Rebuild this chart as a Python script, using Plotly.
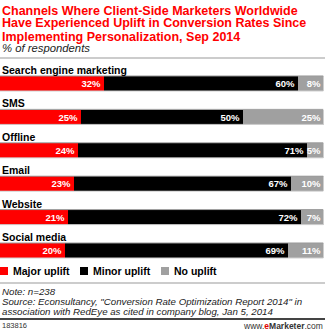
import plotly.graph_objects as go

# Survey data: share of respondents by uplift level per channel
channels = ["Search engine marketing", "SMS", "Offline", "Email", "Website", "Social media"]
major_uplift = [32, 25, 24, 23, 21, 20]
minor_uplift = [60, 50, 71, 67, 72, 69]
no_uplift = [8, 25, 5, 10, 7, 11]

series_names = ["Major uplift", "Minor uplift", "No uplift"]
series_colors = ["#ff0000", "#000000", "#a0a0a0"]

title_lines = [
    "Channels Where Client-Side Marketers Worldwide",
    "Have Experienced Uplift in Conversion Rates Since",
    "Implementing Personalization, Sep 2014",
]
subtitle = "% of respondents"
note_lines = [
    "Note: n=238",
    "Source: Econsultancy, \"Conversion Rate Optimization Report 2014\" in",
    "association with RedEye as cited in company blog, Jan 5, 2014",
]
chart_id = "183816"

W, H = 325, 330
FONT = "Liberation Sans, Arial, sans-serif"
BAR_W = 0.45


def py(px):
    """Convert a pixel offset from the top into paper y."""
    return 1 - px / H


rows = list(range(len(channels)))
fig = go.Figure()
for name, color, vals in zip(series_names, series_colors, [major_uplift, minor_uplift, no_uplift]):
    fig.add_trace(go.Bar(
        x=vals, y=rows, orientation="h", name=name,
        marker=dict(color=color, line=dict(width=0)),
        width=BAR_W,
        text=[f"{v}%" for v in vals], textposition="inside",
        insidetextanchor="end",
        textfont=dict(family=FONT, size=9.5, color="white", weight="bold"),
        cliponaxis=False, showlegend=False, hoverinfo="skip",
    ))

annotations = []
shapes = []

# Title block
for i, (line, cy) in enumerate(zip(title_lines, [10.5, 23.5, 36.5])):
    annotations.append(dict(
        text=f"<b>{line}</b>", x=0, xref="paper", xanchor="left",
        y=py(cy), yref="paper", yanchor="middle", showarrow=False,
        font=dict(family=FONT, size=12.5, color="#ff0000"),
    ))
annotations.append(dict(
    text=f"<i>{subtitle}</i>", x=0, xref="paper", xanchor="left",
    y=py(48), yref="paper", yanchor="middle", showarrow=False,
    font=dict(family=FONT, size=11.3, color="#222222"),
))
shapes.append(dict(type="line", xref="paper", yref="paper", x0=0, x1=1,
                   y0=py(58), y1=py(58), line=dict(color="#999999", width=1)))

# Category labels above each bar, plus thin edge lines on the bars
for i, name in enumerate(channels):
    annotations.append(dict(
        text=f"<b>{name}</b>", x=0, xref="paper", xanchor="left",
        y=i, yref="y", yanchor="middle", yshift=13.5, showarrow=False,
        font=dict(family=FONT, size=10.5, color="#000000"),
    ))
    shapes.append(dict(type="line", xref="x", yref="y", x0=0, x1=100,
                       y0=i - BAR_W / 2, y1=i - BAR_W / 2, layer="above",
                       line=dict(color="#9a9a9a", width=1)))
    shapes.append(dict(type="line", xref="x", yref="y", x0=0, x1=100,
                       y0=i + BAR_W / 2, y1=i + BAR_W / 2, layer="above",
                       line=dict(color="#d0d0d0", width=1)))

# Legend
legend_x = [0, 80, 161]
for lx, name, color in zip(legend_x, series_names, series_colors):
    shapes.append(dict(type="rect", xref="paper", yref="paper",
                       x0=lx / W, x1=(lx + 8) / W, y0=py(275), y1=py(267),
                       fillcolor=color, line=dict(width=0)))
    annotations.append(dict(
        text=f"<b>{name}</b>", x=(lx + 11) / W, xref="paper", xanchor="left",
        y=py(271), yref="paper", yanchor="middle", showarrow=False,
        font=dict(family=FONT, size=10.5, color="#000000"),
    ))

# Notes and source
shapes.append(dict(type="line", xref="paper", yref="paper", x0=0, x1=1,
                   y0=py(283), y1=py(283), line=dict(color="#999999", width=1)))
for line, cy in zip(note_lines, [291.5, 301.5, 311.5]):
    annotations.append(dict(
        text=f"<i>{line}</i>", x=0, xref="paper", xanchor="left",
        y=py(cy), yref="paper", yanchor="middle", showarrow=False,
        font=dict(family=FONT, size=9.7, color="#222222"),
    ))
shapes.append(dict(type="line", xref="paper", yref="paper", x0=0, x1=1,
                   y0=py(319), y1=py(319), line=dict(color="#444444", width=2)))
annotations.append(dict(
    text=chart_id, x=0, xref="paper", xanchor="left",
    y=py(325.5), yref="paper", yanchor="middle", showarrow=False,
    font=dict(family=FONT, size=7.5, color="#333333"),
))
annotations.append(dict(
    text="www.<b><span style='color:#e00000'>e</span>Marketer</b>.com",
    x=1, xref="paper", xanchor="right",
    y=py(325.5), yref="paper", yanchor="middle", showarrow=False,
    font=dict(family=FONT, size=8.5, color="#333333"),
))

n = len(channels)
slot = 33.4
top_px = 83.5 - slot / 2
bottom_px = top_px + slot * n

fig.update_layout(
    width=W, height=H, margin=dict(l=0, r=0, t=0, b=0),
    paper_bgcolor="white", plot_bgcolor="white",
    barmode="stack", bargap=0,
    showlegend=False,
    uniformtext=dict(minsize=9.5, mode="show"),
    xaxis=dict(range=[0, 100], domain=[0, 323.5 / W], visible=False, fixedrange=True),
    yaxis=dict(range=[n - 0.5, -0.5], domain=[py(bottom_px), py(top_px)],
               visible=False, fixedrange=True),
    annotations=annotations, shapes=shapes,
)

fig.write_html("out.html", config={"displayModeBar": False})
